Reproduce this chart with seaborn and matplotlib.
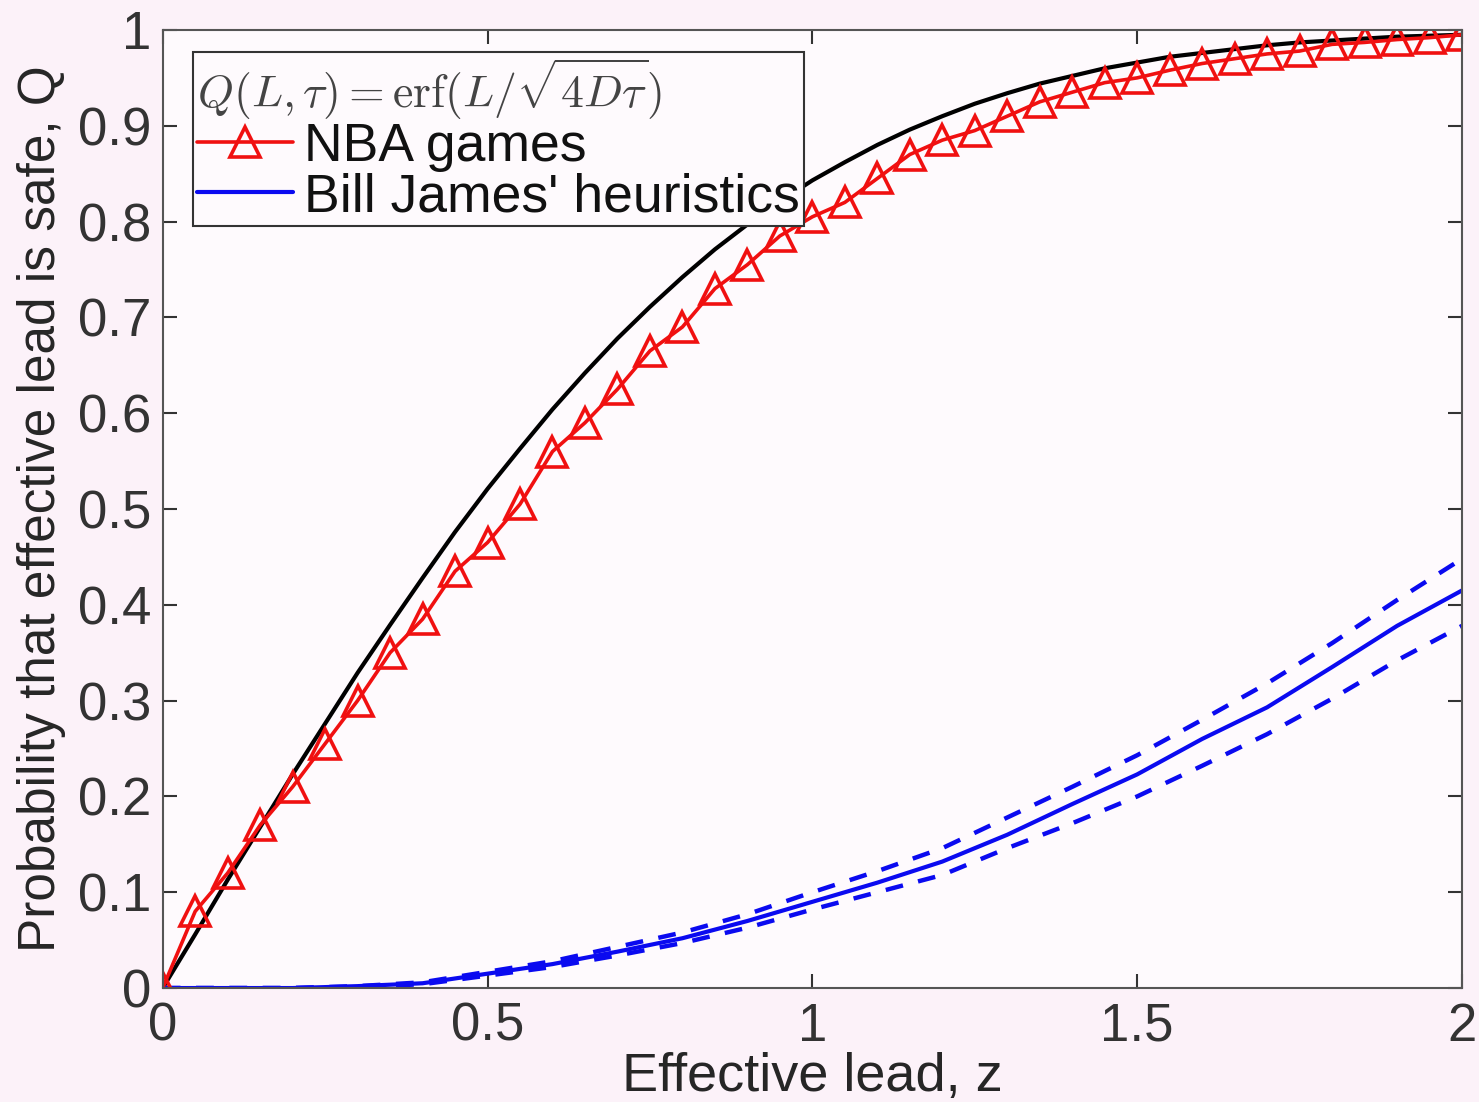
import numpy as np
import pandas as pd
import seaborn as sns
import matplotlib
matplotlib.use("Agg")
import matplotlib.pyplot as plt
from matplotlib.lines import Line2D

# ---- data ----
z_fine = [0.00, 0.05, 0.10, 0.15, 0.20, 0.25, 0.30, 0.35, 0.40, 0.45, 0.50,
          0.55, 0.60, 0.65, 0.70, 0.75, 0.80, 0.85, 0.90, 0.95, 1.00,
          1.05, 1.10, 1.15, 1.20, 1.25, 1.30, 1.35, 1.40, 1.45, 1.50,
          1.55, 1.60, 1.65, 1.70, 1.75, 1.80, 1.85, 1.90, 1.95, 2.00]
theory_q = [0.000, 0.056, 0.113, 0.168, 0.223, 0.276, 0.329, 0.379, 0.428, 0.476, 0.521,
            0.563, 0.604, 0.642, 0.678, 0.711, 0.742, 0.771, 0.797, 0.821, 0.843,
            0.862, 0.880, 0.896, 0.910, 0.923, 0.934, 0.944, 0.952, 0.960, 0.966,
            0.972, 0.976, 0.980, 0.984, 0.987, 0.989, 0.991, 0.993, 0.994, 0.995]
nba_q = [0.000, 0.080, 0.120, 0.170, 0.210, 0.255, 0.300, 0.350, 0.385, 0.435, 0.465,
         0.505, 0.560, 0.590, 0.625, 0.665, 0.690, 0.730, 0.755, 0.785, 0.805,
         0.820, 0.845, 0.870, 0.885, 0.895, 0.910, 0.925, 0.935, 0.945, 0.950,
         0.958, 0.965, 0.970, 0.975, 0.978, 0.985, 0.987, 0.990, 0.992, 0.995]

z_coarse = [0.0, 0.1, 0.2, 0.3, 0.4, 0.5, 0.6, 0.7, 0.8, 0.9, 1.0,
            1.1, 1.2, 1.3, 1.4, 1.5, 1.6, 1.7, 1.8, 1.9, 2.0]
bj_mid = [0.000, 0.000, 0.000, 0.002, 0.005, 0.015, 0.025, 0.038, 0.052, 0.070, 0.090,
          0.110, 0.132, 0.160, 0.192, 0.223, 0.260, 0.293, 0.335, 0.378, 0.415]
bj_upper = [0.000, 0.000, 0.000, 0.002, 0.006, 0.017, 0.028, 0.043, 0.058, 0.077, 0.100,
            0.122, 0.146, 0.178, 0.210, 0.243, 0.280, 0.318, 0.360, 0.405, 0.448]
bj_lower = [0.000, 0.000, 0.000, 0.001, 0.004, 0.013, 0.022, 0.034, 0.047, 0.063, 0.082,
            0.100, 0.118, 0.146, 0.172, 0.200, 0.232, 0.265, 0.302, 0.342, 0.378]

x_ticks = [0, 0.5, 1, 1.5, 2]
x_ticklabels = ["0", "0.5", "1", "1.5", "2"]
y_ticks = [0, 0.1, 0.2, 0.3, 0.4, 0.5, 0.6, 0.7, 0.8, 0.9, 1.0]
y_ticklabels = ["0", "0.1", "0.2", "0.3", "0.4", "0.5", "0.6", "0.7", "0.8", "0.9", "1"]

# ---- style ----
sns.set_theme(style="ticks")
plt.rcParams['font.family'] = ['Liberation Sans', 'DejaVu Sans']
plt.rcParams['mathtext.fontset'] = 'cm'

fig = plt.figure(figsize=(14.79, 11.02), dpi=100, facecolor='#fcf2f9')
ax = fig.add_axes([0.110, 0.1034, 0.8785, 0.8694])
ax.set_facecolor('#fefafd')

df_theory = pd.DataFrame({"z": z_fine, "q": theory_q})
df_nba = pd.DataFrame({"z": z_fine, "q": nba_q})
df_bj = pd.DataFrame({"z": z_coarse, "mid": bj_mid, "up": bj_upper, "lo": bj_lower})

sns.lineplot(data=df_theory, x="z", y="q", ax=ax, color="black", lw=3, sort=False)
sns.lineplot(data=df_bj, x="z", y="up", ax=ax, color="#0a0af0", lw=3.2,
             linestyle=(0, (4, 3.5)), sort=False)
sns.lineplot(data=df_bj, x="z", y="lo", ax=ax, color="#0a0af0", lw=3.2,
             linestyle=(0, (4, 3.5)), sort=False)
sns.lineplot(data=df_bj, x="z", y="mid", ax=ax, color="#0a0af0", lw=3, sort=False)
sns.lineplot(data=df_nba, x="z", y="q", ax=ax, color="#f01010", lw=2.6, sort=False,
             marker="^", markersize=21, markerfacecolor="none",
             markeredgecolor="#f01010", markeredgewidth=2.6)

ax.set_xlim(0, 2)
ax.set_ylim(0, 1)
ax.set_xticks(x_ticks)
ax.set_xticklabels(x_ticklabels)
ax.set_yticks(y_ticks)
ax.set_yticklabels(y_ticklabels)
ax.tick_params(direction="in", length=10, width=1.5, colors="#333333",
               labelsize=38, top=True, right=True, pad=8)
ax.tick_params(axis="x", pad=10)
for s in ax.spines.values():
    s.set_visible(True)
    s.set_color("#555555")
    s.set_linewidth(1.5)

ax.set_xlabel("Effective lead, z", fontsize=39, color="#262626", labelpad=0)
ax.set_ylabel("Probability that effective lead is safe, Q", fontsize=37,
              color="#262626", labelpad=9)

handles = [
    Line2D([], [], color="#f01010", lw=2.6, marker="^", markersize=21,
           markerfacecolor="none", markeredgecolor="#f01010", markeredgewidth=2.6),
    Line2D([], [], color="#0a0af0", lw=3),
]
leg = ax.legend(handles, ["NBA games", "Bill James' heuristics"],
                title=r"$Q(L,\tau) = \mathrm{erf}(L/\sqrt{4D\tau})$",
                title_fontproperties={"size": 33},
                alignment="left", loc="upper left",
                bbox_to_anchor=(0.023, 0.977), fontsize=38.5,
                frameon=True, fancybox=False, framealpha=1,
                edgecolor="#333333", facecolor="#fefafd",
                handlelength=1.8, handletextpad=0.2, borderpad=0.08,
                labelspacing=0.0, borderaxespad=0)
leg.get_title().set_color("#444444")
leg.get_frame().set_linewidth(1.5)
for t in leg.get_texts():
    t.set_color("#111111")

fig.savefig("out.png", dpi=100, facecolor=fig.get_facecolor())
